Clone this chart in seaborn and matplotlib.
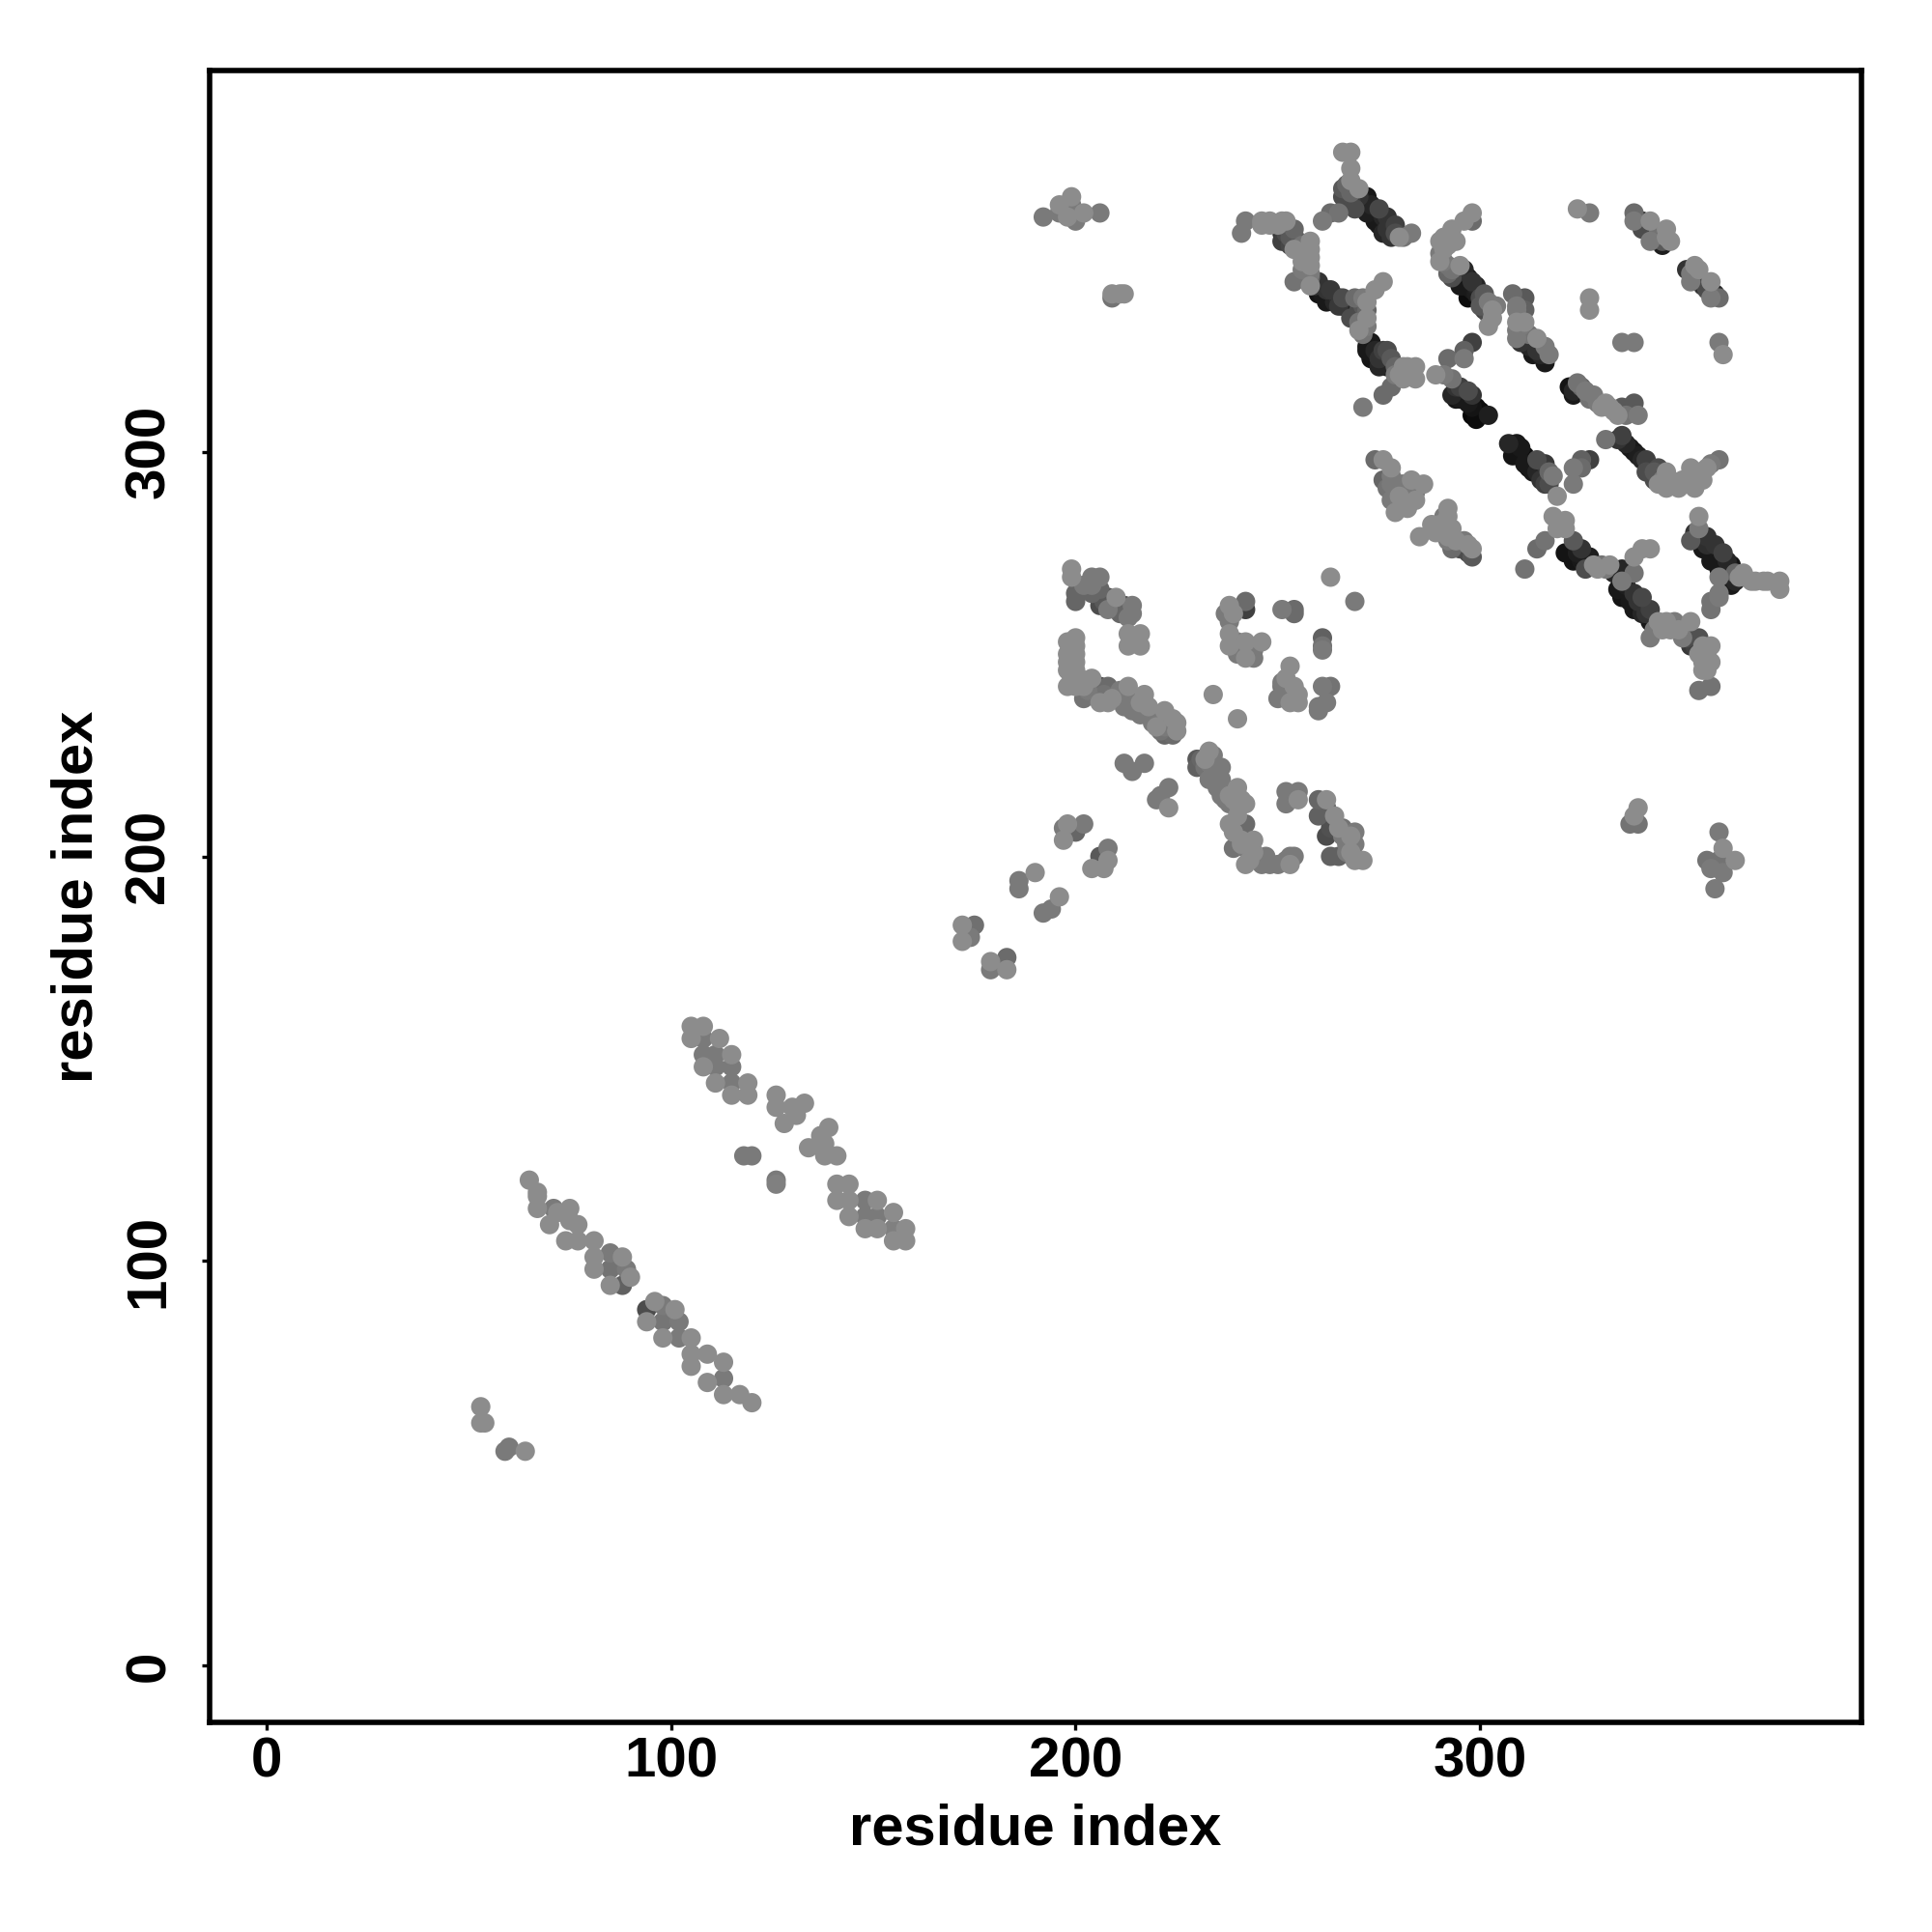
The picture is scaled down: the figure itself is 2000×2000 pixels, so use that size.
import pandas as pd
import matplotlib.pyplot as plt
import seaborn as sns

L = 0.55  # usual light contact
M = 0.48

# contacts as (residue i, residue j, grey level)
corner_low = [(53,64,L),(53,60,L),(54,60,L),(59,53,M),(60,54,M),(64,53,L)]

strand_a = [(65,120,L),(67,117,L),(67,116,L),(67,113,L),(71,113,M),(75,113,L),(70,109,L),(72,112,L),
            (75,110,L),(77,109,L),(74,105,L),(77,105,L),(81,105,L),(81,101,L),(81,98,L),(85,102,M),
            (88,101,L),(85,98,0.45),(89,98,M),(90,96,L),(85,94,L),(88,94,0.38),(94,88,0.3),(96,90,L),
            (94,85,L),(98,89,M),(101,88,L),(98,85,0.46),(102,85,M),(98,81,L),(102,81,M),(105,81,L),
            (105,77,L),(105,74,L),(109,77,L),(113,75,L),(109,70,L),(113,71,M),(113,67,L),(117,67,L),(120,65,L)]

strand_b = [(105,158,L),(108,158,L),(105,155,L),(108,155,M),(112,155,L),(108,151,M),(115,151,L),(111,151,M),
            (108,148,L),(111,148,M),(115,148,M),(111,144,L),(115,144,M),(115,141,L),(119,144,L),(119,141,L),
            (126,141,L),(126,138,L),(130,138,L),(133,139,L),(131,136,L),(128,134,L),(139,133,L),(137,131,L),
            (138,129,L),(134,128,L),(138,126,L),(141,126,L),(118,126,M),(120,126,M),(126,120,M),(126,119,0.5),
            (141,119,L),(144,119,L),(141,115,L),(144,115,L),(144,111,L),(148,115,M),(151,115,L),(148,111,M),
            (151,111,M),(148,108,L),(151,108,L),(155,112,L),(155,108,0.5),(155,105,L),(158,108,L),(158,105,L)]

mid_pairs = [(172,183,L),(175,183,0.44),(172,179,L),(174,180,M),(179,174,L),(179,172,M),(183,175,0.42),(183,172,L),
             (190,196,L),(186,194,M),(186,192,M),(196,190,L),(192,186,M),(194,187,M),(200,206,0.4),(198,208,L),
             (197,204,L),(197,207,M),(202,208,M),(206,200,0.35),(208,202,M),(208,199,L),(204,197,L),(207,197,L)]

cross_left = [(199,271,L),(199,269,L),(204,269,M),(206,269,M),(200,265,0.4),(200,263,0.4),(204,267,M),(206,265,0.35),
              (208,264,0.3),(210,264,L),(206,262,0.3),(208,261,M),(212,262,0.25),(214,262,M),(214,260,M),
              (213,255,L),(216,255,L),(213,252,L),(216,252,L),(198,253,L),(200,254,L),(200,252,L),(198,248,L),
              (200,248,L),(198,246,L),(200,246,L),(198,242,L),(200,242,L),(202,239,0.45),(204,244,L),(202,242,L),
              (206,242,0.3),(208,242,0.42),(206,238,L),(208,238,L),(213,242,L),(213,239,M),(217,240,L),(212,237,M),
              (216,235,M),(219,233,M),(218,237,L),(222,236,L),(222,230,0.4),(224,230,0.42),(225,233,L),(222,232,M),
              (224,234,L),(212,223,M),(217,223,M),(214,221,M),(223,217,M),(220,214,M),(223,212,L),(221,215,M)]

cross_left_fill = [(198,250,L),(200,250,L),(199,244,L),(201,244,L),(203,241,M),(205,240,0.42),(207,240,0.45),(209,239,L),
                   (211,241,M),(215,238,M),(214,236,M),(216,238,L),(218,235,M),(220,235,M),(220,232,L),(223,232,0.45),
                   (221,231,0.45),(224,231,0.4),(225,231,L),(202,267,M),(204,265,0.4),(207,263,0.35),(209,262,0.3),
                   (211,260,0.4),(213,259,M),(206,266,0.4),(215,253,L),(214,254,L)]

cross_right = [(263,269,L),(234,240,L),(240,234,L),(269,263,M),(237,260,M),(238,262,L),(242,261,0.25),(242,263,0.42),
               (239,260,L),(251,261,M),(254,261,0.42),(254,260,0.42),(238,255,L),(238,252,L),(242,253,L),(240,250,M),
               (243,250,M),(246,253,L),(244,251,M),(261,254,0.38),(261,252,0.45),(261,251,M),(253,247,L),(251,243,M),
               (254,242,L),(251,240,M),(253,238,L),(255,238,L),(261,242,M),(263,242,0.45),(260,237,M),(262,238,M),(260,236,M),
               (230,224,0.35),(233,226,L),(230,222,0.38),(234,225,M),(236,222,M),(233,219,M),(235,217,M),(240,217,L),
               (237,214,M),(242,213,L),(238,213,M),(240,213,L),(238,208,L),(241,206,0.25),(242,208,0.42),(239,202,0.45),
               (244,204,L),(242,202,M),(252,216,M),(255,216,M),(252,213,M),(255,214,L),(260,214,0.4),(262,214,L),
               (260,210,0.38),(264,210,L),(262,205,0.3),(266,207,0.45),(242,198,L),(246,198,M),(248,198,M),(247,200,M),
               (253,200,M),(254,200,M),(253,198,L),(263,200,0.38),(265,200,0.38),(269,199,L),(271,199,L),(269,206,M),
               (269,203,M),(267,203,M)]

cross_right_fill = [(231,224,0.4),(232,224,L),(233,223,M),(234,221,M),(232,222,0.45),(236,219,M),(236,215,M),(238,215,L),
                    (239,214,L),(240,215,L),(241,214,L),(239,206,L),(240,210,L),(244,201,L),(243,199,L),(241,203,L),
                    (241,204,L),(250,198,M),(252,199,M),(238,258,M),(240,253,M),(241,251,0.45),(242,249,L),(244,249,M),
                    (251,242,0.45),(252,241,0.45),(250,239,M),(253,240,M),(252,244,L),(255,240,L),(262,212,0.38),
                    (263,209,0.3),(263,207,0.32),(265,207,L),(266,205,M),(268,205,L),(267,201,M),(268,201,L)]

top_left = [(192,358,M),(196,359,M),(199,363,L),(199,361,M),(198,358,L),(200,357,M),(202,359,L),(206,359,M),(196,361,L),
            (209,338,0.45),(209,339,L),(211,339,L),(212,339,L)]

far_right = [(337,208,0.45),(339,208,0.45),(338,210,L),(339,212,L),(359,206,M),(356,199,0.45),(360,202,L),(363,199,L),
             (358,192,M),(357,197,M),(360,196,M),(359,199,0.45)]

band_top = [(267,363,0.1),(267,366,0.4),(272,363,0.1),(269,360,0.3),(275,360,0.28),(272,359,0.12),(277,358,0.2),(274,357,0.1),
            (279,356,0.25),(276,354,0.15),(278,353,0.2),(266,374,L),(268,374,L),(268,370,L),(268,367,L),(270,365,L),
            (280,353,L),(283,354,M),(261,357,M),(263,359,0.42),(265,359,0.45),(242,357,M),(241,354,M),(246,356,L),
            (248,357,L),(251,357,L),(252,357,L),(251,354,0.2),(254,355,0.4),(253,351,0.28),(254,350,L),(258,352,L),
            (258,348,L),(258,346,L),(254,342,0.45),(258,341,L),(260,342,0.2),(260,339,0.08),(263,340,0.22),(262,337,0.1),
            (265,338,0.18),(265,336,0.22),(268,335,0.08),(269,338,0.42),(271,338,M),(274,340,L),(276,342,L),(270,335,0.3),
            (272,333,L),(270,330,L),(273,327,0.1),(272,326,0.1),(276,325,0.25),(273,323,0.08),(278,323,0.35),(275,321,0.15),
            (281,321,L),(284,321,L),(284,318,L),(281,318,L),(278,316,0.42),(276,314,0.42),(271,311,M)]

band_top_fill = [(268,362,0.25),(270,361,0.1),(270,363,0.2),(273,361,0.15),(276,358,0.15),(275,356,0.1),(277,355,0.2),
                 (279,354,0.3),(281,353,0.45),(266,363,0.3),(266,365,0.35),(268,364,0.4),(252,354,0.3),(251,352,0.25),
                 (253,353,0.35),(255,352,0.35),(256,351,0.45),(258,350,L),(256,347,L),(258,344,M),(258,343,0.4),(256,345,M),
                 (246,357,L),(248,356,L),(250,356,L),(259,341,0.2),(261,339,0.1),(262,340,0.2),(264,337,0.15),(266,336,0.1),
                 (266,338,0.3),(268,337,0.15),(269,336,0.1),(268,333,0.3),(271,336,0.35),(272,331,M),(270,332,0.45),
                 (271,329,0.45),(272,335,0.4),(272,337,L),(272,325,0.1),(274,325,0.15),(275,323,0.2),(276,322,0.15),
                 (277,321,0.1),(277,325,0.3),(279,321,0.4),(279,319,M),(280,319,L),(282,319,L),(282,321,L)]

band_mid = [(298,359,L),(298,357,0.42),(296,357,L),(293,355,L),(291,353,L),(294,352,L),(290,352,L),(290,347,L),(293,343,0.3),
            (295,346,L),(297,343,0.1),(295,341,0.1),(299,341,0.15),(297,338,0.05),(301,339,0.35),(302,337,M),(302,334,0.3),
            (302,331,L),(298,327,0.25),(296,325,0.38),(292,323,0.42),(296,323,M),(289,319,L),(293,318,0.45),(295,316,0.25),
            (293,314,0.15),(298,314,0.2),(295,313,0.1),(299,311,0.05),(302,309,0.12),(298,309,0.03),(299,308,0.05)]

band_mid_fill = [(293,352,L),(292,351,L),(291,350,L),(290,349,M),(291,347,M),(292,346,0.45),(293,345,0.45),(292,344,0.4),
                 (294,344,0.2),(296,345,0.15),(296,341,0.1),(298,340,0.1),(299,339,0.12),(300,338,0.3),(298,342,0.2),
                 (300,336,0.35),(301,335,0.25),(303,333,L),(303,335,L),(304,336,M),(294,316,0.2),(296,314,0.1),(297,312,0.1),
                 (298,311,0.08),(300,310,0.05),(297,315,0.3),(294,313,0.08),(291,319,M)]

band_right = [(324,360,L),(327,359,M),(338,359,0.42),(338,357,M),(340,357,0.15),(342,357,L),(342,354,0.2),(342,352,M),
              (346,353,L),(345,351,0.12),(351,345,0.2),(353,346,L),(354,345,L),(352,342,M),(354,342,0.2),(357,342,L),
              (357,340,0.12),(357,338,M),(359,338,0.42),(327,338,L),(327,335,L),(335,327,M),(338,327,M),(359,327,M),(360,324,L),
              (308,339,0.42),(311,338,0.35),(309,335,M),(311,335,0.38),(309,332,L),(311,332,L),(309,328,M),(311,328,0.15),
              (314,328,L),(313,324,0.1),(316,322,0.1),(317,324,M),(322,316,0.08),(324,317,0.45),(326,315,M),(323,314,0.1),
              (328,314,M),(332,311,L),(335,311,0.35),(338,312,0.35),(339,309,M),(331,303,0.45),(335,304,0.25),(337,301,0.1),
              (339,299,0.12),(341,298,0.25),(342,296,0.1),(344,296,0.3),(343,293,0.3),(346,295,L),(348,292,M),(351,292,L),
              (355,293,L),(346,291,L),(349,291,L),(353,291,L),(357,297,M),(352,296,L),(359,298,0.45)]

band_right_fill = [(340,355,0.3),(344,354,0.45),(345,352,0.35),(347,352,L),(346,355,L),(352,344,M),(353,343,0.3),(355,341,0.2),
                   (356,340,0.3),(358,339,0.15),(309,336,M),(309,330,M),(310,331,M),(310,327,0.2),(312,326,0.15),(312,329,0.45),
                   (314,325,0.2),(315,324,0.15),(316,326,M),(323,315,0.15),(325,316,0.4),(327,313,0.45),(329,312,M),(330,311,L),
                   (333,310,L),(334,309,L),(331,312,L),(336,309,0.45),(334,303,0.2),(336,302,0.15),(338,300,0.1),(340,298,0.15),
                   (341,295,0.3),(343,295,0.35),(344,292,L),(345,293,M),(347,293,L),(350,293,L),(352,294,L),(354,295,L),(356,296,L)]

band_low = [(274,298,0.42),(276,298,L),(278,296,L),(276,293,0.4),(280,292,M),(280,289,L),(282,288,M),(284,292,0.45),(286,292,L),
            (279,285,L),(284,290,M),(292,286,L),(292,284,L),(288,282,L),(290,280,M),(285,279,L),(293,276,0.42),(294,278,L),
            (296,278,M),(298,274,0.35),(298,276,L),(296,276,0.25),(311,271,0.45),(307,302,0.15),(309,302,0.1),(308,299,0.08),
            (311,299,0.05),(314,298,0.3),(311,297,0.1),(316,297,0.22),(313,295,0.1),(318,294,M),(316,292,0.25),(319,289,L),
            (327,298,0.25),(325,298,0.38),(325,296,0.42),(323,296,M),(323,292,M),(318,284,L),(321,283,L),(319,281,L),(321,281,L),
            (316,278,0.45),(314,276,0.42),(323,278,0.35),(325,276,0.2),(321,275,0.08),(323,273,0.08),(327,274,0.12),(326,271,0.3),
            (328,272,L),(330,272,0.45),(332,272,L),(335,271,0.15),(338,270,0.45),(338,274,L),(340,276,L),(342,276,L),(335,268,M),
            (334,266,0.1),(338,265,0.2),(335,264,0.08),(340,264,0.28),(338,261,0.1),(342,261,0.25),(342,258,0.1),(342,254,M),
            (344,258,L),(346,258,L),(348,258,M),(352,258,L),(349,256,L),(354,254,0.32),(352,252,0.22),(355,252,L),(357,252,L),
            (355,248,L),(357,248,L),(356,246,L),(354,241,0.45),(357,242,0.45),(354,284,L),(354,281,M),(352,278,0.35),(356,279,0.2),
            (358,277,0.2),(360,275,0.25),(355,276,0.1),(357,273,0.1),(362,272,0.08),(359,271,0.08),(365,270,L),(363,270,0.4),
            (362,267,0.1),(367,268,L),(370,268,L),(371,268,L),(374,268,L),(374,266,L),(359,269,M),(359,265,M),(357,263,0.45),
            (359,264,M),(357,261,0.45)]

band_low_fill = [(278,294,M),(277,291,0.45),(278,292,M),(279,290,M),(281,290,M),(281,292,M),(283,293,L),(284,288,L),(282,286,L),
                 (278,288,M),(291,284,M),(290,282,L),(291,281,M),(289,280,L),(292,279,L),(293,281,L),(295,276,0.3),(297,275,0.3),
                 (297,277,L),(292,278,M),(309,300,0.05),(312,296,0.08),(314,295,0.15),(315,293,0.2),(317,295,0.4),(317,292,0.3),
                 (310,301,0.1),(324,275,0.12),(325,273,0.1),(327,272,0.1),(329,271,L),(331,271,M),(333,270,0.15),(335,269,0.1),
                 (336,267,0.12),(337,263,0.1),(339,263,0.2),(340,260,0.15),(341,260,0.2),(343,256,M),(345,256,L),(347,256,L),
                 (350,254,M),(351,254,0.3),(353,252,0.25),(354,250,L),(356,250,L),(355,246,L),(353,280,0.2),(355,278,0.15),
                 (356,277,0.18),(358,275,0.1),(359,273,0.1),(361,273,0.15),(361,270,0.1),(363,268,0.15),(364,269,L),(368,268,L)]

clusters = [corner_low, strand_a, strand_b, mid_pairs, cross_left, cross_left_fill, cross_right, cross_right_fill,
            top_left, far_right, band_top, band_top_fill, band_mid, band_mid_fill, band_right, band_right_fill,
            band_low, band_low_fill]
tick_values = [0, 100, 200, 300]

sns.set_theme(style="white")
plt.rcParams['font.family'] = ['Liberation Sans', 'DejaVu Sans']

df = pd.DataFrame([p for c in clusters for p in c], columns=['x', 'y', 'level'])
df = df.sort_values('level', kind='stable')

fig = plt.figure(figsize=(10, 10), dpi=200)
ax = fig.add_axes([0.1085, 0.1085, 0.855, 0.855])
sns.scatterplot(data=df, x='x', y='y', hue='level', palette='gray', hue_norm=(0, 1),
                s=52, linewidth=0, legend=False, ax=ax)
ax.set_xlim(-14, 394.2)
ax.set_ylim(-14, 394.2)
ax.set_xticks(tick_values)
ax.set_yticks(tick_values)
ax.tick_params(axis='x', length=3, width=1.2, color='black', bottom=True, pad=2.3)
ax.tick_params(axis='y', length=3, width=1.2, color='black', left=True, pad=9.6)
for lab in ax.get_xticklabels():
    lab.set_fontsize(21)
    lab.set_fontweight('bold')
    lab.set_color('black')
for lab in ax.get_yticklabels():
    lab.set_fontsize(21)
    lab.set_fontweight('bold')
    lab.set_color('black')
    lab.set_rotation(90)
    lab.set_va('center')
ax.set_xlabel('residue index', fontsize=21.5, fontweight='bold', color='black', labelpad=5.4)
ax.set_ylabel('residue index', fontsize=21.5, fontweight='bold', color='black', labelpad=7.4)
for side in ax.spines.values():
    side.set_linewidth(2.0)
    side.set_color('black')

plt.savefig('out.png', dpi=200)
plt.close()
